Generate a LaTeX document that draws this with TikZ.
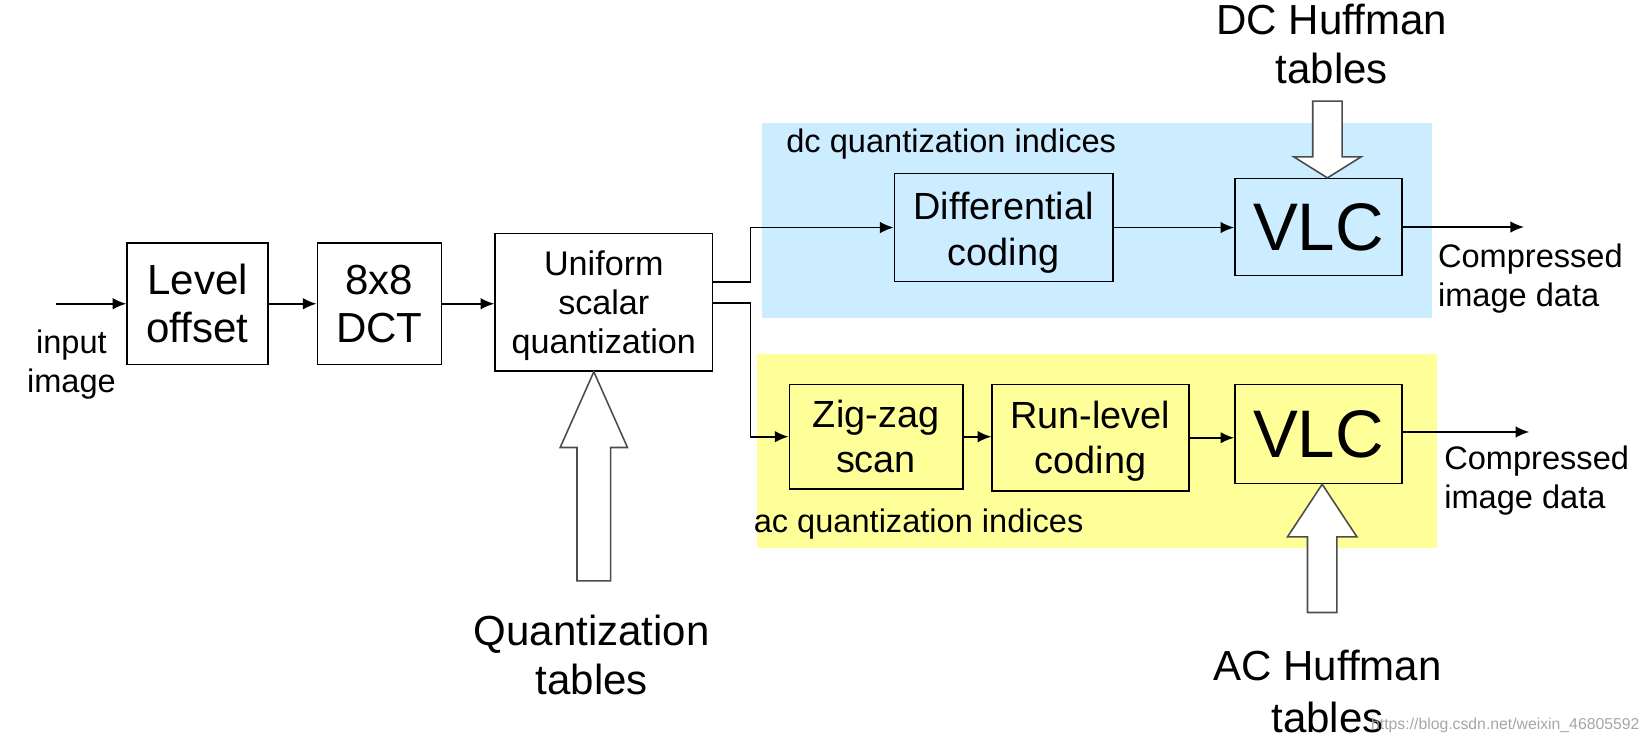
\documentclass[tikz,border=0pt]{standalone}
\usepackage{fontspec}
\setmainfont{Liberation Sans}
\usepackage{tikz}
\usetikzlibrary{arrows.meta,positioning,calc}

\definecolor{dcblue}{RGB}{204,236,255}
\definecolor{acyellow}{RGB}{255,255,153}

\newcommand{\fbig}{\fontsize{40}{46}\selectfont}
\newcommand{\fmid}{\fontsize{36}{43}\selectfont}
\newcommand{\fsmall}{\fontsize{31}{37}\selectfont}
\newcommand{\fvlc}{\fontsize{64}{70}\selectfont}

\tikzset{
  blk/.style={draw, line width=1.5pt, align=center, inner sep=0pt},
  arr/.style={line width=1.6pt, -{Latex[length=13pt,width=11pt]}},
  hollow/.style={draw=black!70, line width=1.5pt, fill=white, line join=miter},
  lbl/.style={align=left, inner sep=0pt}
}

\begin{document}
\begin{tikzpicture}[x=1pt, y=-1pt]
  \useasboundingbox (0,0) rectangle (1568,707);
  % shaded groups
  \fill[dcblue] (725,117) rectangle (1362,303);
  \fill[acyellow] (720,337) rectangle (1367,521);

  % main chain
  \node[blk, minimum width=134, minimum height=116, font=\fbig] (lvl) at (188,289) {Level\\offset};
  \node[blk, minimum width=118, minimum height=116, font=\fbig] (dct) at (361,289) {8x8\\DCT};
  \node[blk, minimum width=207, minimum height=131, font=\fontsize{32.5}{37}\selectfont] (quant) at (574.5,287.5) {\rule{0pt}{30pt}Uniform\\scalar\\quantization};

  \coordinate (in) at (53,289);
  \node[lbl, align=center, font=\fsmall] (inlbl) at (68,347) {input\\image};

  % dc branch
  \node[lbl, anchor=west, font=\fsmall] (dcidx) at (748,137) {dc quantization indices};
  \node[blk, minimum width=208, minimum height=103, font=\fmid] (diff) at (955,216.5) {\rule{0pt}{36pt}Differential\\coding};
  \node[blk, minimum width=159, minimum height=92, font=\fvlc] (vlcdc) at (1254.5,216) {VLC};
  \coordinate (outdc) at (1450,216);
  \node[lbl, anchor=west, font=\fsmall] (cmpdc) at (1368,265) {Compressed\\image data};
  \node[lbl, align=center, font=\fbig] (dchuff) at (1267,42) {DC Huffman\\tables};

  % ac branch
  \node[blk, minimum width=165, minimum height=99, font=\fmid] (zig) at (833.5,415.5) {Zig-zag\\scan};
  \node[blk, minimum width=187, minimum height=101, font=\fmid] (run) at (1037.5,416.5) {\rule{0pt}{33pt}Run-level\\coding};
  \node[blk, minimum width=159, minimum height=94, font=\fvlc] (vlcac) at (1254.5,413) {VLC};
  \coordinate (outac) at (1455,411);
  \node[lbl, anchor=west, font=\fsmall] (cmpac) at (1374,457) {Compressed\\image data};
  \node[lbl, anchor=west, font=\fsmall] (acidx) at (717,499) {ac quantization indices};
  \node[lbl, align=center, font=\fontsize{40}{50}\selectfont] (achuff) at (1263,658) {AC Huffman\\tables};

  \node[lbl, align=center, font=\fontsize{40}{47}\selectfont] (qtab) at (563,623) {Quantization\\tables};

  % connectors
  \draw[arr] (in) -- (lvl);
  \draw[arr] (lvl) -- (dct);
  \draw[arr] (dct.east) -- (quant.west |- dct.east);
  \draw[arr] (quant.east |- 0,268) -- (714,268) |- (diff.west);
  \draw[arr] (quant.east |- 0,288) -- (714,288) |- (zig.west);
  \draw[arr] (diff.east) -- (vlcdc.west |- diff.east);
  \draw[arr] (vlcdc.east) -- (outdc);
  \draw[arr] (zig.east) -- (run.west |- zig.east);
  \draw[arr] (run.east) -- (vlcac.west |- run.east);
  \draw[arr] (vlcac.east |- outac) -- (outac);

  % table inputs
  \coordinate (tdc) at ($(vlcdc.north -| dchuff.south)+(-4,0)$);
  \draw[hollow] ($(tdc)+(-14,-73)$) -- ++(0,53) -- ++(-18,0) -- (tdc) -- ($(tdc)+(32,-20)$) -- ++(-18,0) -- ++(0,-53) -- cycle;
  \coordinate (tac) at ($(vlcac.south -| achuff.north)+(-5,0)$);
  \draw[hollow] ($(tac)+(-14,122)$) -- ++(0,-72) -- ++(-19,0) -- (tac) -- ($(tac)+(33,50)$) -- ++(-19,0) -- ++(0,72) -- cycle;
  \coordinate (tq) at ($(quant.south -| qtab.north)+(2,0)$);
  \draw[hollow] ($(tq)+(-16,199)$) -- ++(0,-127) -- ++(-16,0) -- (tq) -- ($(tq)+(32,72)$) -- ++(-16,0) -- ++(0,127) -- cycle;

  \node[lbl, anchor=east, text=black!35, font=\fontsize{15}{18}\selectfont] (wm) at (1560,690) {https://blog.csdn.net/weixin\_46805592};
\end{tikzpicture}
\end{document}
